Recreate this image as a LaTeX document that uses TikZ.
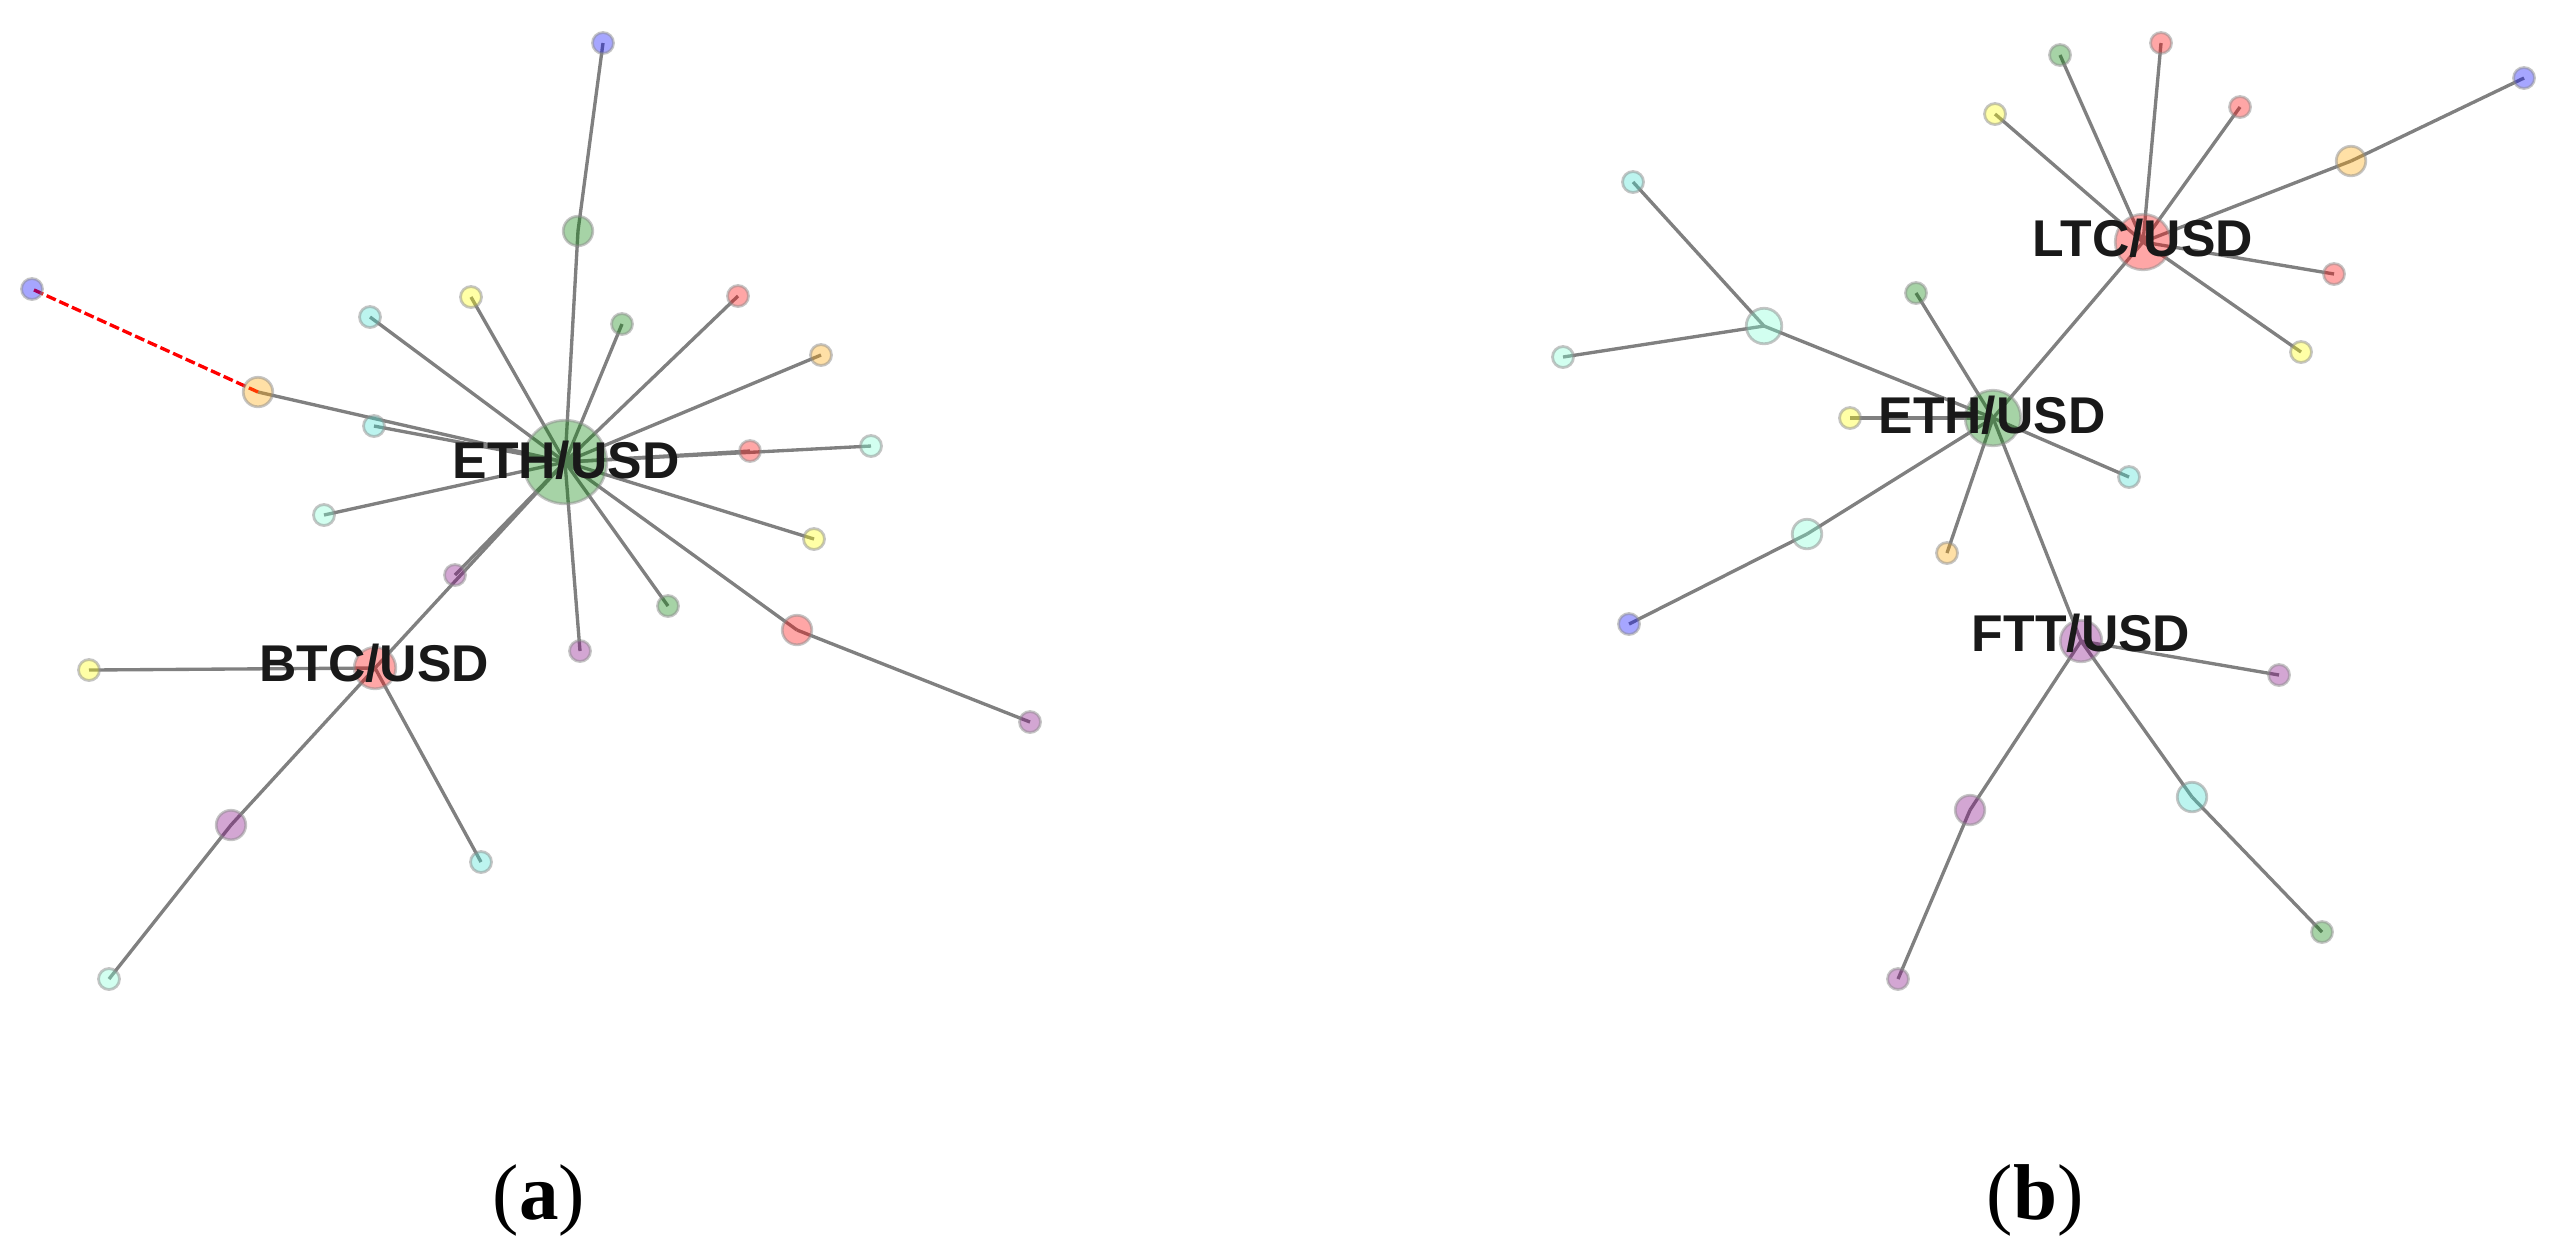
\documentclass[tikz,border=0pt]{standalone}
\usepackage{fontspec}
\setmainfont{Liberation Serif}
\newfontfamily\lblfont{Liberation Sans}
\pgfdeclarelayer{edges}
\pgfsetlayers{edges,main}
\definecolor{cG}{RGB}{0,128,0}
\definecolor{cR}{RGB}{255,0,0}
\definecolor{cB}{RGB}{0,0,255}
\definecolor{cY}{RGB}{255,255,0}
\definecolor{cO}{RGB}{255,165,0}
\definecolor{cP}{RGB}{128,0,128}
\definecolor{cT}{RGB}{64,224,208}
\definecolor{cA}{RGB}{127,255,212}
\definecolor{edgegray}{RGB}{128,128,128}
\tikzset{
  nd/.style={circle, inner sep=0pt, line width=0.8pt, draw=black!45, draw opacity=0.5, fill opacity=0.35, minimum size=0.21cm},
  nG/.style={nd, fill=cG}, nR/.style={nd, fill=cR}, nB/.style={nd, fill=cB},
  nY/.style={nd, fill=cY}, nO/.style={nd, fill=cO}, nP/.style={nd, fill=cP},
  nT/.style={nd, fill=cT}, nA/.style={nd, fill=cA},
  med/.style={minimum size=0.295cm},
  big/.style={minimum size=0.355cm},
  hubS/.style={minimum size=0.415cm},
  hubM/.style={minimum size=0.555cm},
  hubL/.style={minimum size=0.835cm},
  edge/.style={draw=edgegray, line width=0.95pt},
  redge/.style={draw=cR, line width=0.95pt, dash pattern=on 2.85pt off 1.1pt},
  lbl/.style={font=\lblfont\bfseries\fontsize{14.7}{17}\selectfont, text=black!90, inner sep=0pt},
  captxt/.style={font=\fontsize{22.5}{27}\selectfont, anchor=base, inner sep=0pt}
}
\begin{document}
\begin{tikzpicture}[x=0.01cm, y=-0.01cm]
\useasboundingbox (0,0) rectangle (2555,1256);
% ---------------- panel (a)
\node[nB] (a1) at (603,43) {};
\node[nG, med] (a2) at (578,231) {};
\node[nB] (a3) at (32,289) {};
\node[nO, med] (a4) at (258,392) {};
\node[nY] (a5) at (471,297) {};
\node[nT] (a6) at (370,317) {};
\node[nG] (a7) at (622,324) {};
\node[nR] (a8) at (738,296) {};
\node[nO] (a9) at (821,355) {};
\node[nT] (a10) at (374,426) {};
\node[nG, hubL] (etha) at (565,462) {};
\node[nR] (a11) at (750,451) {};
\node[nA] (a12) at (871,446) {};
\node[nA] (a13) at (324,515) {};
\node[nY] (a14) at (814,539) {};
\node[nP] (a15) at (455,575) {};
\node[nG] (a16) at (668,606) {};
\node[nP] (a17) at (580,651) {};
\node[nR, med] (a18) at (797,630) {};
\node[nP] (a19) at (1030,722) {};
\node[nR, hubS] (btc) at (375,668) {};
\node[nY] (a21) at (89,670) {};
\node[nP, med] (a22) at (231,825) {};
\node[nT] (a23) at (481,862) {};
\node[nA] (a24) at (109,979) {};
% ---------------- panel (b)
\node[nG] (b1) at (2060,55) {};
\node[nR] (b2) at (2161,43) {};
\node[nY] (b3) at (1995,114) {};
\node[nR] (b4) at (2240,107) {};
\node[nB] (b5) at (2524,78) {};
\node[nO, med] (b6) at (2351,161) {};
\node[nR, hubM] (ltc) at (2143,242) {};
\node[nR] (b8) at (2334,274) {};
\node[nY] (b9) at (2301,352) {};
\node[nT] (b10) at (1633,182) {};
\node[nA, big] (b11) at (1764,326) {};
\node[nA] (b12) at (1563,357) {};
\node[nG] (b13) at (1916,293) {};
\node[nG, hubM] (ethb) at (1993,418) {};
\node[nY] (b15) at (1850,418) {};
\node[nT] (b16) at (2129,477) {};
\node[nA, med] (b17) at (1807,534) {};
\node[nO] (b18) at (1947,553) {};
\node[nB] (b19) at (1629,624) {};
\node[nP, hubS] (ftt) at (2081,641) {};
\node[nP] (b21) at (2279,675) {};
\node[nP, med] (b22) at (1970,810) {};
\node[nT, med] (b23) at (2192,797) {};
\node[nG] (b24) at (2322,932) {};
\node[nP] (b25) at (1898,979) {};
% ---------------- edges
\begin{pgfonlayer}{edges}
\foreach \t in {a2,a4,a5,a6,a7,a8,a9,a10,a11,a12,a13,a14,a15,a16,a17,a18,btc}
  \draw[edge] (etha.center) -- (\t.center);
\draw[edge] (a2.center) -- (a1.center);
\draw[edge] (a18.center) -- (a19.center);
\foreach \t in {a21,a22,a23}
  \draw[edge] (btc.center) -- (\t.center);
\draw[edge] (a22.center) -- (a24.center);
\draw[redge] (a4.center) -- (a3.center);
\foreach \t in {b1,b2,b3,b4,b6,b8,b9,ethb}
  \draw[edge] (ltc.center) -- (\t.center);
\draw[edge] (b6.center) -- (b5.center);
\foreach \t in {b11,b13,b15,b16,b17,b18,ftt}
  \draw[edge] (ethb.center) -- (\t.center);
\draw[edge] (b11.center) -- (b10.center);
\draw[edge] (b11.center) -- (b12.center);
\draw[edge] (b17.center) -- (b19.center);
\foreach \t in {b21,b22,b23}
  \draw[edge] (ftt.center) -- (\t.center);
\draw[edge] (b22.center) -- (b25.center);
\draw[edge] (b23.center) -- (b24.center);
\end{pgfonlayer}
% ---------------- labels
\node[lbl] (lethA) at (566,460) {ETH/USD};
\node[lbl] (lbtc) at (374,663) {BTC/USD};
\node[lbl] (lltc) at (2143,238) {LTC/USD};
\node[lbl] (lethB) at (1992,415) {ETH/USD};
\node[lbl] (lftt) at (2081,633) {FTT/USD};
\node[captxt] (capa) at (539,1219) {(\textbf{a})};
\node[captxt] (capb) at (2035,1219) {(\textbf{b})};
\end{tikzpicture}
\end{document}
